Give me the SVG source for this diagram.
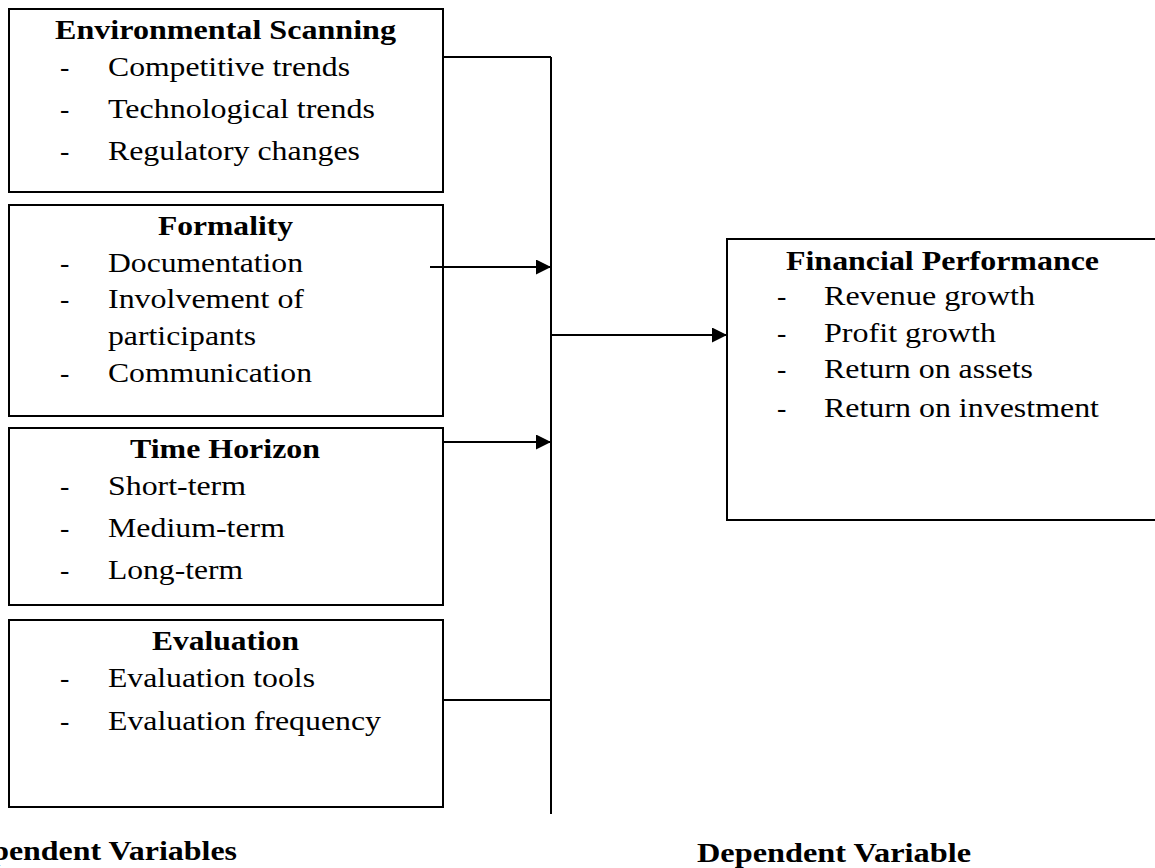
<svg xmlns="http://www.w3.org/2000/svg" width="1155" height="868" viewBox="0 0 1155 868">
<style>
.box{fill:#fff;stroke:#000;stroke-width:2}
.t{font-family:'Liberation Serif','Times New Roman',Times,serif;font-size:28px;fill:#000}
.b{font-weight:bold}
.ln{stroke:#000;stroke-width:2;fill:none}
</style>
<defs>
<marker id="ah" markerUnits="userSpaceOnUse" markerWidth="15" markerHeight="15" refX="15" refY="7.5" orient="auto">
<path d="M0,0 L15,7.5 L0,15 Z" fill="#000"/>
</marker>
</defs>
<rect width="1155" height="868" fill="#fff"/>
<g id="node-env">
<rect class="box" x="9" y="9" width="434" height="183"/>
<text class="t b" x="55" y="39" textLength="341" lengthAdjust="spacingAndGlyphs">Environmental Scanning</text>
<text class="t" x="60" y="76">-</text><text class="t" x="108" y="76" textLength="242" lengthAdjust="spacingAndGlyphs">Competitive trends</text>
<text class="t" x="60" y="118">-</text><text class="t" x="108" y="118" textLength="267" lengthAdjust="spacingAndGlyphs">Technological trends</text>
<text class="t" x="60" y="160">-</text><text class="t" x="108" y="160" textLength="252" lengthAdjust="spacingAndGlyphs">Regulatory changes</text>
</g>
<g id="node-formality">
<rect class="box" x="9" y="205" width="434" height="211"/>
<text class="t b" x="158" y="235" textLength="135" lengthAdjust="spacingAndGlyphs">Formality</text>
<text class="t" x="60" y="272">-</text><text class="t" x="108" y="272" textLength="195" lengthAdjust="spacingAndGlyphs">Documentation</text>
<text class="t" x="60" y="308">-</text><text class="t" x="108" y="308" textLength="196" lengthAdjust="spacingAndGlyphs">Involvement of</text>
<text class="t" x="108" y="345" textLength="148" lengthAdjust="spacingAndGlyphs">participants</text>
<text class="t" x="60" y="382">-</text><text class="t" x="108" y="382" textLength="204" lengthAdjust="spacingAndGlyphs">Communication</text>
</g>
<g id="node-time">
<rect class="box" x="9" y="428" width="434" height="177"/>
<text class="t b" x="130" y="458" textLength="190" lengthAdjust="spacingAndGlyphs">Time Horizon</text>
<text class="t" x="60" y="495">-</text><text class="t" x="108" y="495" textLength="138" lengthAdjust="spacingAndGlyphs">Short-term</text>
<text class="t" x="60" y="537">-</text><text class="t" x="108" y="537" textLength="177" lengthAdjust="spacingAndGlyphs">Medium-term</text>
<text class="t" x="60" y="579">-</text><text class="t" x="108" y="579" textLength="135" lengthAdjust="spacingAndGlyphs">Long-term</text>
</g>
<g id="node-eval">
<rect class="box" x="9" y="620" width="434" height="187"/>
<text class="t b" x="152" y="650" textLength="147" lengthAdjust="spacingAndGlyphs">Evaluation</text>
<text class="t" x="60" y="687">-</text><text class="t" x="108" y="687" textLength="207" lengthAdjust="spacingAndGlyphs">Evaluation tools</text>
<text class="t" x="60" y="730">-</text><text class="t" x="108" y="730" textLength="273" lengthAdjust="spacingAndGlyphs">Evaluation frequency</text>
</g>
<g id="node-fp">
<rect class="box" x="727" y="239" width="440" height="281"/>
<text class="t b" x="786" y="270" textLength="313" lengthAdjust="spacingAndGlyphs">Financial Performance</text>
<text class="t" x="777" y="305">-</text><text class="t" x="824" y="305" textLength="211" lengthAdjust="spacingAndGlyphs">Revenue growth</text>
<text class="t" x="777" y="342">-</text><text class="t" x="824" y="342" textLength="172" lengthAdjust="spacingAndGlyphs">Profit growth</text>
<text class="t" x="777" y="378">-</text><text class="t" x="824" y="378" textLength="209" lengthAdjust="spacingAndGlyphs">Return on assets</text>
<text class="t" x="777" y="417">-</text><text class="t" x="824" y="417" textLength="275" lengthAdjust="spacingAndGlyphs">Return on investment</text>
</g>
<g id="connectors">
<line class="ln" x1="551" y1="57" x2="551" y2="814"/>
<line class="ln" x1="443" y1="57" x2="551" y2="57"/>
<line class="ln" x1="430" y1="267" x2="551" y2="267" marker-end="url(#ah)"/>
<line class="ln" x1="443" y1="442" x2="551" y2="442" marker-end="url(#ah)"/>
<line class="ln" x1="443" y1="700" x2="551" y2="700"/>
<line class="ln" x1="551" y1="335" x2="727" y2="335" marker-end="url(#ah)"/>
</g>
<g id="labels">
<text class="t b" x="-71" y="860" textLength="308" lengthAdjust="spacingAndGlyphs">Independent Variables</text>
<text class="t b" x="697" y="862" textLength="274" lengthAdjust="spacingAndGlyphs">Dependent Variable</text>
</g>
</svg>
